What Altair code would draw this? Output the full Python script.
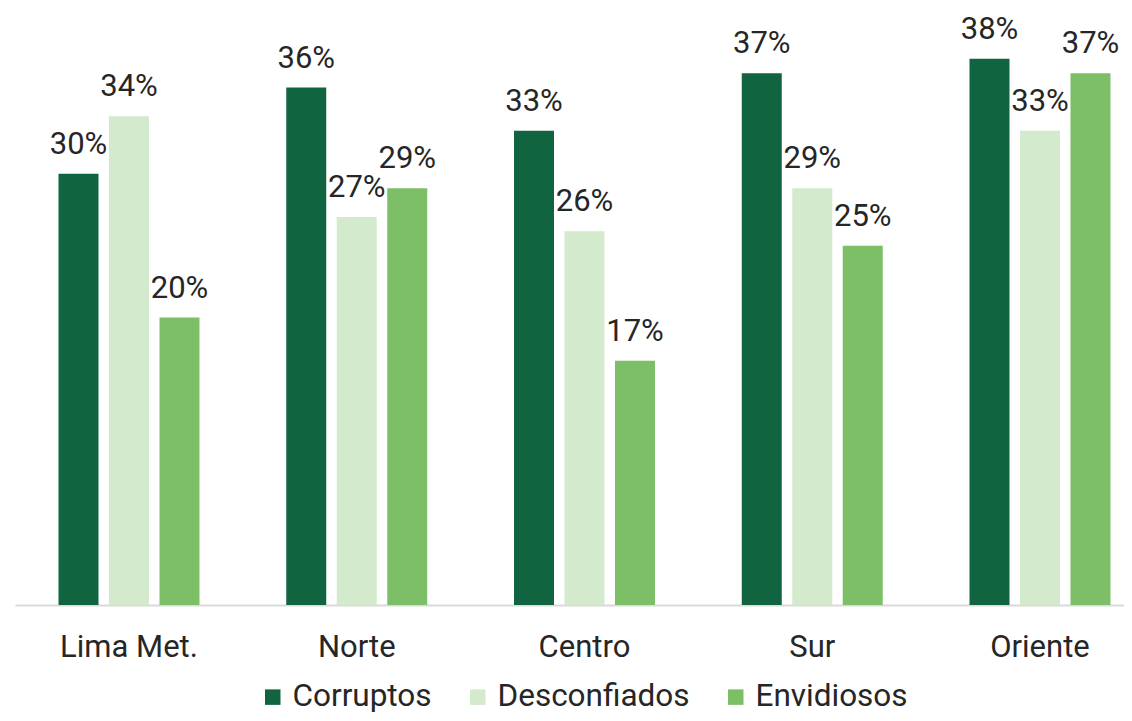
import altair as alt
import pandas as pd

regions = ["Lima Met.", "Norte", "Centro", "Sur", "Oriente"]
series = ["Corruptos", "Desconfiados", "Envidiosos"]
corruptos = [30, 36, 33, 37, 38]
desconfiados = [34, 27, 26, 29, 33]
envidiosos = [20, 29, 17, 25, 37]
colors = ["#10643F", "#D3EACD", "#7DBF66"]

rows = []
for i, r in enumerate(regions):
    for s, vals in zip(series, [corruptos, desconfiados, envidiosos]):
        rows.append({"region": r, "serie": s, "valor": vals[i], "label": f"{vals[i]}%"})
df = pd.DataFrame(rows)

FONT = "Roboto"
x = alt.X("region:N", sort=regions, title=None,
          scale=alt.Scale(paddingInner=0.381, paddingOuter=0.1252, align=0.763),
          axis=alt.Axis(labelAngle=0, labelFontSize=31, labelFont=FONT, labelColor="#262626",
                        ticks=False, tickSize=0, labelPadding=51, labelBaseline="alphabetic",
                        domainColor="#D9D9D9", domainWidth=2, grid=False))
xo = alt.XOffset("serie:N", sort=series, scale=alt.Scale(paddingInner=0.208, paddingOuter=0))
y = alt.Y("valor:Q", scale=alt.Scale(domain=[0, 40], nice=False), axis=None)

base = alt.Chart(df)
bars = base.mark_bar().encode(
    x=x, xOffset=xo, y=y,
    color=alt.Color("serie:N", sort=series,
                    scale=alt.Scale(domain=series, range=colors),
                    legend=alt.Legend(title=None, orient="none", direction="horizontal",
                                      legendX=242, legendY=651, padding=0, symbolType="square",
                                      symbolSize=240, symbolStrokeWidth=0,
                                      labelFontSize=31.5, labelFont=FONT, labelColor="#262626",
                                      labelOffset=4, columnPadding=30, labelLimit=400)),
)
text = base.mark_text(baseline="alphabetic", dy=-20, fontSize=31, font=FONT, color="#262626").encode(
    x=x, xOffset=xo, y=y, text="label:N"
)

chart = (bars + text).properties(
    width=1109, height=575,
    autosize=alt.AutoSizeParams(type="none"),
    padding={"left": 7, "top": 22, "right": 0, "bottom": 108},
).configure_view(stroke=None)

chart.save("out.html", embed_options={"renderer": "svg", "actions": False})
